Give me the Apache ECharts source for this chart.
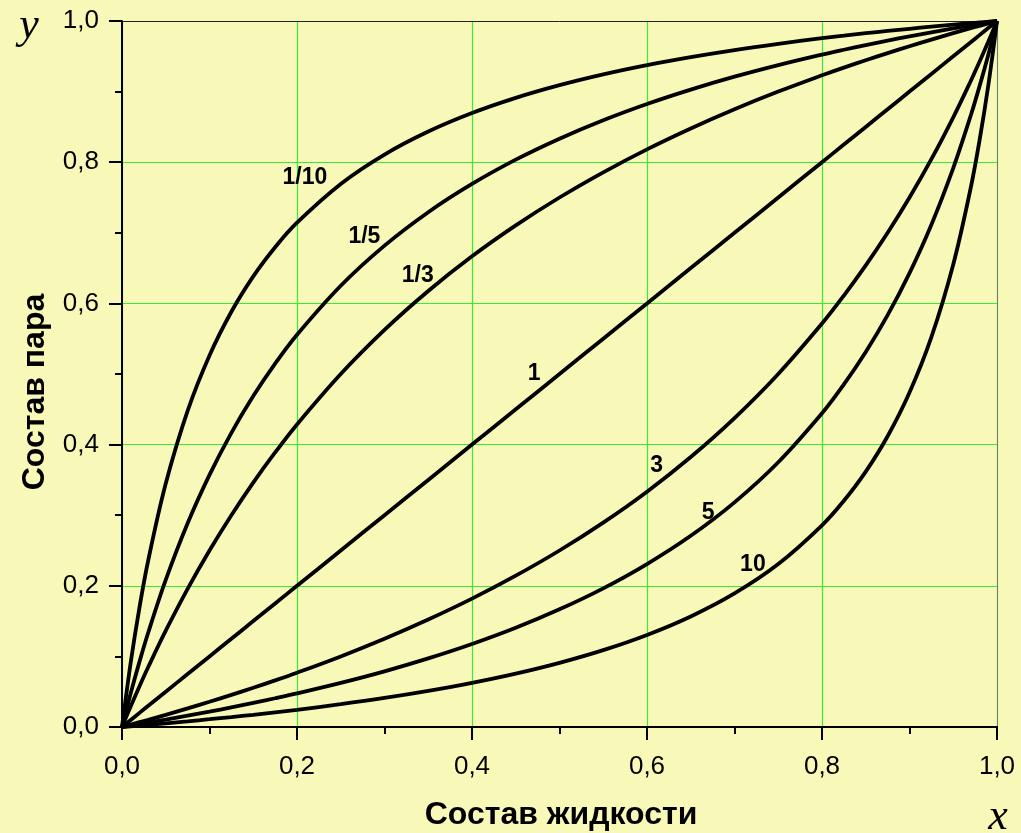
<!DOCTYPE html>
<html>
<head>
<meta charset="utf-8">
<style>
  html, body { margin: 0; padding: 0; background: #F8F8B8; }
  #chart { width: 1021px; height: 833px; }
</style>
<script src="https://cdn.jsdelivr.net/npm/echarts@6/dist/echarts.min.js"></script>
</head>
<body>
<div id="chart"></div>
<script>
// Liquid composition (x) sampled along each curve
const xPoints = [0, 0.01, 0.02, 0.03, 0.05, 0.075, 0.1, 0.125, 0.15, 0.175, 0.2, 0.25, 0.3, 0.35, 0.4, 0.45, 0.5,
                 0.55, 0.6, 0.65, 0.7, 0.75, 0.8, 0.825, 0.85, 0.875, 0.9, 0.925, 0.95, 0.97, 0.98, 0.99, 1];

// Vapour composition (y) along each curve
const yCurve_1_10 = [0, 0.0917, 0.1695, 0.2362, 0.3448, 0.4478, 0.5263, 0.5882, 0.6383, 0.6796, 0.7143, 0.7692, 0.8108, 0.8434, 0.8696, 0.8911, 0.9091,
                     0.9244, 0.9375, 0.9489, 0.9589, 0.9677, 0.9756, 0.9792, 0.9827, 0.9859, 0.9890, 0.9920, 0.9948, 0.9969, 0.9980, 0.9990, 1];
const yCurve_1_5  = [0, 0.0481, 0.0926, 0.1339, 0.2083, 0.2885, 0.3571, 0.4167, 0.4688, 0.5147, 0.5556, 0.6250, 0.6818, 0.7292, 0.7692, 0.8036, 0.8333,
                     0.8594, 0.8824, 0.9028, 0.9211, 0.9375, 0.9524, 0.9593, 0.9659, 0.9722, 0.9783, 0.9840, 0.9896, 0.9939, 0.9959, 0.9980, 1];
const yCurve_1_3  = [0, 0.0294, 0.0577, 0.0849, 0.1364, 0.1957, 0.2500, 0.3000, 0.3462, 0.3889, 0.4286, 0.5000, 0.5625, 0.6176, 0.6667, 0.7105, 0.7500,
                     0.7857, 0.8182, 0.8478, 0.8750, 0.9000, 0.9231, 0.9340, 0.9444, 0.9545, 0.9643, 0.9737, 0.9828, 0.9898, 0.9932, 0.9966, 1];
const yCurve_1    = [0, 0.01, 0.02, 0.03, 0.05, 0.075, 0.1, 0.125, 0.15, 0.175, 0.2, 0.25, 0.3, 0.35, 0.4, 0.45, 0.5,
                     0.55, 0.6, 0.65, 0.7, 0.75, 0.8, 0.825, 0.85, 0.875, 0.9, 0.925, 0.95, 0.97, 0.98, 0.99, 1];
const yCurve_3    = [0, 0.0034, 0.0068, 0.0102, 0.0172, 0.0263, 0.0357, 0.0455, 0.0556, 0.0660, 0.0769, 0.1000, 0.1250, 0.1522, 0.1818, 0.2143, 0.2500,
                     0.2895, 0.3333, 0.3824, 0.4375, 0.5000, 0.5714, 0.6111, 0.6538, 0.7000, 0.7500, 0.8043, 0.8636, 0.9151, 0.9423, 0.9706, 1];
const yCurve_5    = [0, 0.0020, 0.0041, 0.0061, 0.0104, 0.0160, 0.0217, 0.0278, 0.0341, 0.0407, 0.0476, 0.0625, 0.0789, 0.0972, 0.1176, 0.1406, 0.1667,
                     0.1964, 0.2308, 0.2708, 0.3182, 0.3750, 0.4444, 0.4853, 0.5312, 0.5833, 0.6429, 0.7115, 0.7917, 0.8661, 0.9074, 0.9519, 1];
const yCurve_10   = [0, 0.0010, 0.0020, 0.0031, 0.0052, 0.0080, 0.0110, 0.0141, 0.0173, 0.0208, 0.0244, 0.0323, 0.0411, 0.0511, 0.0625, 0.0756, 0.0909,
                     0.1089, 0.1304, 0.1566, 0.1892, 0.2308, 0.2857, 0.3204, 0.3617, 0.4118, 0.4737, 0.5522, 0.6552, 0.7638, 0.8305, 0.9083, 1];

const curveNames = ['1/10', '1/5', '1/3', '1', '3', '5', '10'];
const curveValues = [yCurve_1_10, yCurve_1_5, yCurve_1_3, yCurve_1, yCurve_3, yCurve_5, yCurve_10];

// Caption position of each curve, in data units [x, y]
const labelAnchors = [[0.209, 0.778], [0.277, 0.695], [0.338, 0.640], [0.471, 0.501], [0.611, 0.370], [0.670, 0.304], [0.721, 0.230]];

const tickLabels = ['0,0', '0,2', '0,4', '0,6', '0,8', '1,0'];
const xTitle = 'Состав жидкости';
const yTitle = 'Состав пара';

const tickFmt = v => {
  const i = Math.round(v / 0.2);
  return Math.abs(v - i * 0.2) < 1e-6 ? tickLabels[i] : '';
};

const SANS = '"Liberation Sans", Arial, sans-serif';
const SERIF = '"Liberation Serif", "Times New Roman", serif';

const baseAxis = {
  type: 'value', min: 0, max: 1, interval: 0.2,
  axisLine: { show: true, onZero: false, lineStyle: { color: '#000', width: 2 } },
  axisTick: { show: true, inside: false, length: 13, lineStyle: { color: '#000', width: 2 } },
  minorTick: { show: true, splitNumber: 2, length: 7, lineStyle: { color: '#000', width: 2 } },
  splitLine: { show: true, lineStyle: { color: '#33EE33', width: 1.2 } },
  axisLabel: { color: '#000', fontSize: 26, fontFamily: SANS, formatter: tickFmt }
};

const frameAxis = (pos, color) => ({
  type: 'value', min: 0, max: 1, position: pos,
  axisLine: { show: true, onZero: false, lineStyle: { color: color, width: 1 } },
  axisTick: { show: false }, axisLabel: { show: false }, splitLine: { show: false }
});

const series = curveValues.map((ys, k) => ({
  type: 'line',
  name: curveNames[k],
  xAxisIndex: 0, yAxisIndex: 0,
  data: xPoints.map((x, i) => [x, ys[i]]),
  smooth: 0.35,
  showSymbol: false,
  lineStyle: { color: '#000', width: 3.8 },
  z: 3
}));

// Curve captions
series.push({
  type: 'scatter',
  xAxisIndex: 0, yAxisIndex: 0,
  symbolSize: 0,
  itemStyle: { color: '#000', opacity: 1 },
  data: labelAnchors.map((p, k) => ({ value: p, name: curveNames[k] })),
  label: {
    show: true, position: 'inside', opacity: 1,
    formatter: p => p.name,
    color: '#000', textBorderWidth: 0, fontSize: 23, fontWeight: 'bold', fontFamily: SANS
  },
  z: 5
});

const chart = echarts.init(document.getElementById('chart'));
chart.setOption({
  backgroundColor: '#F8F8B8',
  animation: false,
  grid: { left: 122, right: 24, top: 21, bottom: 106, containLabel: false },
  xAxis: [
    Object.assign({}, baseAxis, { position: 'bottom', axisLabel: Object.assign({}, baseAxis.axisLabel, { margin: 27 }) }),
    frameAxis('top', '#222')
  ],
  yAxis: [
    Object.assign({}, baseAxis, { position: 'left', axisLabel: Object.assign({}, baseAxis.axisLabel, { margin: 23 }) }),
    frameAxis('right', '#777')
  ],
  series: series,
  graphic: [
    { type: 'text', x: 561, y: 815, style: { text: xTitle, align: 'center', verticalAlign: 'middle', fill: '#000', font: 'bold 32px ' + SANS } },
    { type: 'text', x: 35, y: 392, rotation: Math.PI / 2, style: { text: yTitle, align: 'center', verticalAlign: 'middle', fill: '#000', font: 'bold 32px ' + SANS } },
    { type: 'text', x: 29, y: 26, style: { text: 'y', align: 'center', verticalAlign: 'middle', fill: '#000', font: 'italic 44px ' + SERIF } },
    { type: 'text', x: 998, y: 817, style: { text: 'x', align: 'center', verticalAlign: 'middle', fill: '#000', font: 'italic 44px ' + SERIF } }
  ]
});
</script>
</body>
</html>
